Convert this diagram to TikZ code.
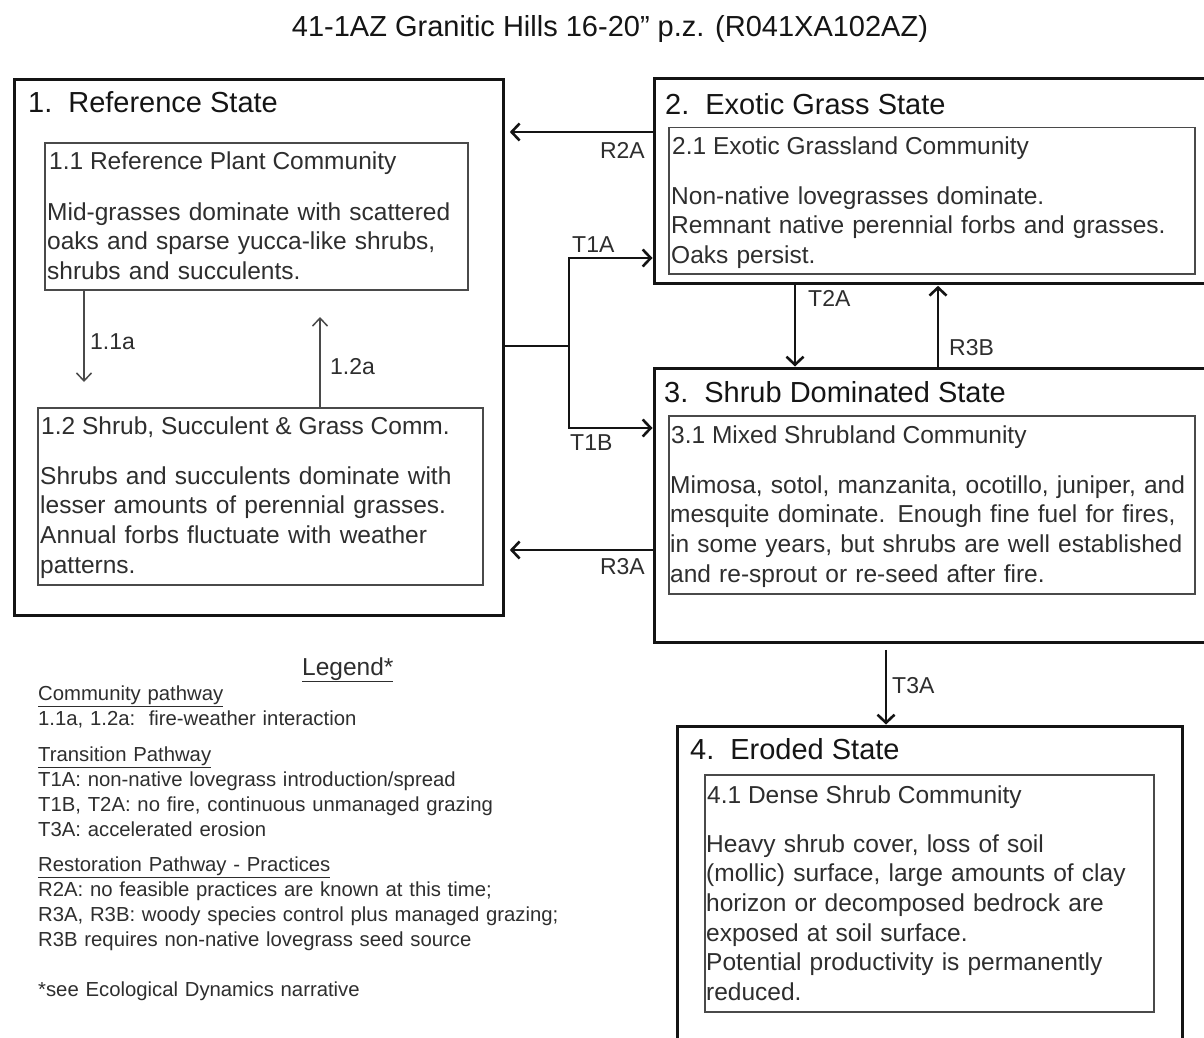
\documentclass[tikz,border=0pt]{standalone}
\usepackage{fontspec}
\setmainfont{Liberation Sans}
\usetikzlibrary{arrows.meta}
\definecolor{txtc}{HTML}{2E2E2E}
\definecolor{ttlc}{HTML}{151515}
\definecolor{boxc}{HTML}{141414}
\definecolor{cboxc}{HTML}{4A4A4A}
\newcommand\myTitleFont{\fontsize{29}{34}\selectfont}
\newcommand\myBodyFont{\fontsize{24.5}{29.6}\selectfont}
\newcommand\myLegFont{\fontsize{20.3}{25}\selectfont}
\newcommand\myLabFont{\fontsize{23}{27}\selectfont}
\begin{document}
\begin{tikzpicture}[x=1pt,y=-1pt,
  statebox/.style={draw=boxc, line width=2.8pt, inner sep=0pt, anchor=north west},
  commbox/.style={draw=cboxc, line width=1.5pt, inner sep=0pt, anchor=north west},
  sttitle/.style={font=\myTitleFont, text=ttlc, inner sep=0pt, anchor=base west},
  chead/.style={font=\myBodyFont, text=txtc, inner sep=0pt, anchor=base west},
  cbody/.style={font=\myBodyFont, text=txtc, inner sep=0pt, anchor=north west, text width=520pt, align=left},
  legtxt/.style={font=\myLegFont, text=txtc, inner sep=0pt, anchor=north west, text width=640pt, align=left},
  lab/.style={font=\myLabFont, text=txtc, inner sep=0pt},
  conn/.style={draw=boxc, line width=2.6pt, -{Straight Barb[length=8pt,width=17pt]}},
  plainconn/.style={draw=boxc, line width=2.6pt},
  carrow/.style={draw=cboxc, line width=1.5pt, -{Straight Barb[length=8pt,width=15pt]}}
]
\useasboundingbox (0,0) rectangle (1204,1038);
\fill[white] (0,0) rectangle (1204,1038);

% title
\node[font=\myTitleFont, text=ttlc, inner sep=0pt, anchor=base] (title) at (610,37) {41-1AZ Granitic Hills 16-20” p.z. (R041XA102AZ)};

% state boxes
\node[statebox, minimum width=489pt, minimum height=536pt] (s1) at (13,78) {};
\node[statebox, minimum width=560pt, minimum height=205pt] (s2) at (653,77) {};
\node[statebox, minimum width=560pt, minimum height=274pt] (s3) at (653,367) {};
\node[statebox, minimum width=505pt, minimum height=330pt] (s4) at (676,725) {};

% community boxes
\node[commbox, minimum width=423pt, minimum height=147pt] (c11) at (44,142) {};
\node[commbox, minimum width=445pt, minimum height=177pt] (c12) at (37,407) {};
\node[commbox, minimum width=526pt, minimum height=146pt] (c21) at (668,127) {};
\node[commbox, minimum width=526pt, minimum height=178pt] (c31) at (668,415) {};
\node[commbox, minimum width=449pt, minimum height=237pt] (c41) at (704,774) {};

% state titles
\node[sttitle] (t1) at (28,113) {1.\hspace{0.55em}Reference State};
\node[sttitle] (t2) at (665,114) {2.\hspace{0.55em}Exotic Grass State};
\node[sttitle] (t3) at (664,402) {3.\hspace{0.55em}Shrub Dominated State};
\node[sttitle] (t4) at (690,759) {4.\hspace{0.55em}Eroded State};

% community headers
\node[chead] (h11) at (49,169) {1.1 Reference Plant Community};
\node[chead] (h12) at (41,434) {1.2 Shrub, Succulent \& Grass Comm.};
\node[chead] (h21) at (672,154) {2.1 Exotic Grassland Community};
\node[chead] (h31) at (671,443) {3.1 Mixed Shrubland Community};
\node[chead] (h41) at (707,803) {4.1 Dense Shrub Community};

% community bodies (top = first baseline - 0.7*29.6)
\node[cbody] (b11) at (47,199.3) {\strut Mid-grasses dominate with scattered\\oaks and sparse yucca-like shrubs,\\shrubs and succulents.};
\node[cbody] (b12) at (40,463.3) {\strut Shrubs and succulents dominate with\\lesser amounts of perennial grasses.\\Annual forbs fluctuate with weather\\patterns.};
\node[cbody] (b21) at (671,183.3) {\strut Non-native lovegrasses dominate.\\Remnant native perennial forbs and grasses.\\Oaks persist.};
\node[cbody] (b31) at (670,472.3) {\strut Mimosa, sotol, manzanita, ocotillo, juniper, and\\mesquite dominate. Enough fine fuel for fires,\\in some years, but shrubs are well established\\and re-sprout or re-seed after fire.};
\node[cbody] (b41) at (706,831.3) {\strut Heavy shrub cover, loss of soil\\(mollic) surface, large amounts of clay\\horizon or decomposed bedrock are\\exposed at soil surface.\\Potential productivity is permanently\\reduced.};

% coordinates for connectors
\coordinate (j) at (569,346);
\coordinate (xT2A) at (795,0);
\coordinate (xR3B) at (938,0);
\coordinate (xT3A) at (886,0);
\coordinate (yR2A) at (0,132);
\coordinate (yT1A) at (0,258);
\coordinate (yT1B) at (0,428);
\coordinate (yR3A) at (0,550);
\coordinate (e11) at (84,382);
\coordinate (e12) at (320,317);

% state transitions
\draw[conn, shorten >=5pt] (s2.west |- yR2A) -- (s1.east |- yR2A);
\draw[plainconn] (s1.east |- j) -- (j);
\draw[conn, shorten >=0.5pt] (j) |- (s2.west |- yT1A);
\draw[conn, shorten >=0.5pt] (j) |- (s3.west |- yT1B);
\draw[conn, shorten >=5pt] (s3.west |- yR3A) -- (s1.east |- yR3A);
\draw[conn, shorten >=0.5pt] (s2.south -| xT2A) -- (s3.north -| xT2A);
\draw[conn, shorten >=1pt] (s3.north -| xR3B) -- (s2.south -| xR3B);
\draw[conn, shorten <=6pt, shorten >=0.5pt] (s3.south -| xT3A) -- (s4.north -| xT3A);

% community pathways
\draw[carrow] (c11.south -| e11) -- (e11);
\draw[carrow] (c12.north -| e12) -- (e12);

% labels
\node[lab, anchor=base east] (lR2A) at (645,158) {R2A};
\node[lab, anchor=base west] (lT1A) at (572,252) {T1A};
\node[lab, anchor=base west] (lT1B) at (570,450) {T1B};
\node[lab, anchor=base east] (lR3A) at (645,574) {R3A};
\node[lab, anchor=base west] (lT2A) at (808,306) {T2A};
\node[lab, anchor=base west] (lR3B) at (949,355) {R3B};
\node[lab, anchor=base west] (lT3A) at (892,693) {T3A};
\node[lab, anchor=base west] (l11a) at (90,349) {1.1a};
\node[lab, anchor=base west] (l12a) at (330,374) {1.2a};

% legend
\node[font=\myBodyFont, text=txtc, inner sep=0pt, anchor=base west] (leg) at (302,675) {\underline{Legend*}};
\node[legtxt] (lg1) at (38,682.5) {\strut\underline{Community pathway}\\1.1a, 1.2a:\ \ fire-weather interaction};
\node[legtxt] (lg2) at (38,743.5) {\strut\underline{Transition Pathway}\\T1A: non-native lovegrass introduction/spread\\T1B, T2A: no fire, continuous unmanaged grazing\\T3A: accelerated erosion};
\node[legtxt] (lg3) at (38,853.5) {\strut\underline{Restoration Pathway - Practices}\\R2A: no feasible practices are known at this time;\\R3A, R3B: woody species control plus managed grazing;\\R3B requires non-native lovegrass seed source};
\node[legtxt] (lg4) at (38,978.5) {\strut *see Ecological Dynamics narrative};
\end{tikzpicture}
\end{document}
